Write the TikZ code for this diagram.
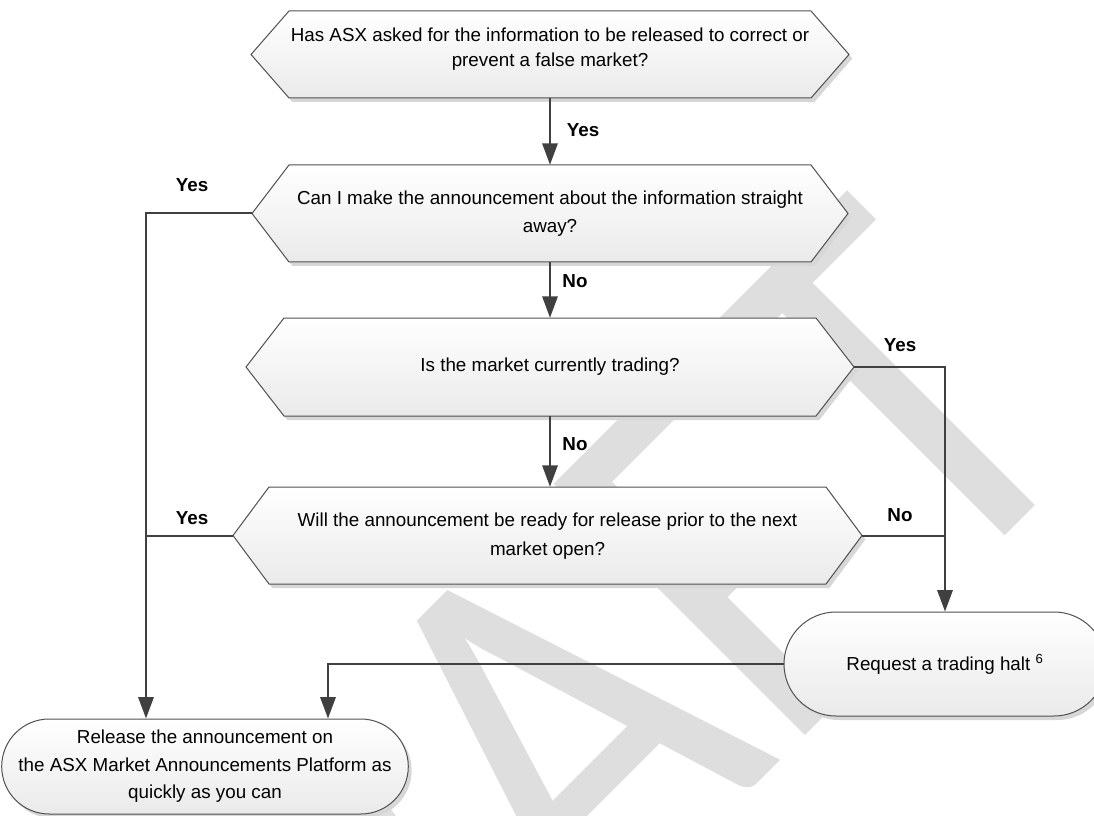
\documentclass[tikz,border=0pt]{standalone}
\usepackage{graphicx}
\usepackage{fontspec}
\setmainfont{Liberation Sans}
\newfontfamily\wmfont[Kerning=Off]{Carlito}
\usetikzlibrary{shapes.misc,shadows,arrows.meta,calc}
\definecolor{wmgray}{RGB}{222,222,222}
\definecolor{linegray}{RGB}{64,64,64}
\definecolor{edgegray}{RGB}{80,80,80}
\definecolor{shadowgray}{RGB}{215,215,215}
\definecolor{fillbottom}{RGB}{234,234,234}
\newcommand\mainsize{\fontsize{14.1pt}{20.6pt}\selectfont}
\tikzset{
  conn/.style={draw=linegray, line width=1.5pt},
  arr/.style={conn, -{Triangle[width=11.5pt,length=16pt]}},
  shapefill/.style={draw=edgegray, line width=0.75pt, top color=white, bottom color=fillbottom,
    drop shadow={shadow xshift=2.5pt, shadow yshift=-3pt, fill=shadowgray, opacity=1}},
  hexbody/.style={inner sep=0pt},
  hexlabel/.style={align=center, inner sep=0pt},
  lbl/.style={font=\mainsize\bfseries, inner sep=0pt},
  term/.style={rounded rectangle, shapefill, align=center, inner sep=0pt, font=\mainsize}
}
% #1 name, #2 cx, #3 cy, #4 half width to tip, #5 half height, #6 slant,
% #7 text y offset, #8 line spacing (pt), #9 text
\newcommand\hexflow[9]{%
  \path[shapefill] (#2-#4,#3) -- (#2-#4+#6,#3-#5) -- (#2+#4-#6,#3-#5) -- (#2+#4,#3)
     -- (#2+#4-#6,#3+#5) -- (#2-#4+#6,#3+#5) -- cycle;
  \node[hexbody, minimum width={2*#4*0.75pt}, minimum height={2*#5*0.75pt}] (#1) at (#2,#3) {};
  \node[hexlabel, font=\fontsize{14.1pt}{#8pt}\selectfont] (#1t) at (#2,#3+#7) {#9};
}
\begin{document}
\begin{tikzpicture}[x=0.75pt,y=-0.75pt]
\useasboundingbox (0,0) rectangle (1094,816);
\clip (0,0) rectangle (1094,816);
\fill[white] (0,0) rectangle (1094,816);
% watermark
\node[text=wmgray, rotate=45, anchor=base, inner sep=0pt,
      font=\wmfont\fontsize{360pt}{360pt}\selectfont] (wm) at (648,893) {\scalebox{1}[1.154]{DRAFT}};

\coordinate (leftx) at (146,0);
\coordinate (rightx) at (328,0);

\hexflow{h1}{550}{54.5}{299}{43.5}{38}{-5}{18.75}{Has ASX asked for the information to be released to correct or\\prevent a false market?}
\hexflow{h2}{550}{213.5}{298}{48.5}{37}{0.5}{21}{Can I make the announcement about the information straight\\away?}
\hexflow{h3}{550}{367}{304}{49}{38}{0}{21}{Is the market currently trading?}
\hexflow{h4}{547.5}{535.5}{314.5}{48.5}{36}{1}{21.75}{Will the announcement be ready for release prior to the next\\market open?}

\node[term, minimum width={322*0.75pt}, minimum height={104*0.75pt}] (halt) at (945,664) {Request a trading halt \textsuperscript{6}};
\node[term, minimum width={390*0.75pt}, minimum height={95*0.75pt}] (rel) at (205,766.5) {Release the announcement on\\the ASX Market Announcements Platform as\\quickly as you can};

% connectors
\draw[arr] (h1.south) -- (h1.south |- h2.north);
\draw[arr] (h2.south) -- (h2.south |- h3.north);
\draw[arr] (h3.south) -- (h3.south |- h4.north);
\draw[arr] (h2.west) -| (leftx |- rel.north);
\draw[conn] (h4.west) -- (h4.west -| leftx);
\draw[arr] (h3.east) -| (halt.north);
\draw[conn] (h4.east) -- (h4.east -| halt.north);
\draw[arr] (halt.west) -| (rightx |- rel.north);

% labels
\node[lbl] (l1) at (583,130) {Yes};
\node[lbl] (l2) at (192,185) {Yes};
\node[lbl] (l3) at (575,281) {No};
\node[lbl] (l4) at (900,345) {Yes};
\node[lbl] (l5) at (575,444) {No};
\node[lbl] (l6) at (192,518) {Yes};
\node[lbl] (l7) at (900,515) {No};
\end{tikzpicture}
\end{document}
